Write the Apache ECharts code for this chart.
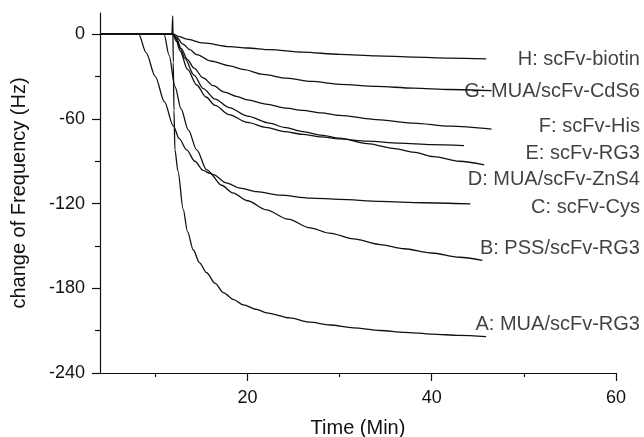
<!DOCTYPE html>
<html>
<head>
<meta charset="utf-8">
<script src="https://cdn.jsdelivr.net/npm/echarts@6/dist/echarts.min.js"></script>
<style>
html,body{margin:0;padding:0;background:#fff;}
#c{width:644px;height:437px;}
</style>
</head>
<body>
<div id="c"></div>
<script>
// ---- data (time in min, frequency change in Hz) ----
const curveA = [[4,0],[6,0],[8,0],[10,0],[11.8,0],[11.9,13],[11.95,-20],[12.03,-54],[12.13,-82],[12.46,-97],[13.03,-124],[13.5,-140],[14.12,-152.7],[14.8,-162],[15.57,-169],[16.5,-176.5],[17.37,-183],[18.5,-188],[19.54,-191.7],[21,-195],[22.08,-197.4],[24.61,-201],[26.78,-204],[28.95,-206],[31.5,-208],[34.4,-209.9],[37,-211.2],[40,-212.4],[43,-213.4],[45.9,-214.2]];
const curveB = [[4,0],[6,0],[8.2,0],[9,-13],[10,-30],[11,-48],[11.95,-65],[12.6,-74],[13.4,-82],[14.3,-90],[15.2,-96.5],[15.93,-98.6],[17.2,-107],[18.4,-112.4],[20,-118],[22.05,-124.4],[24.4,-131],[26.8,-137.2],[28.9,-140.9],[31.5,-145],[34.4,-149],[37,-152],[40,-155],[43,-158],[45.5,-160.3]];
const curveC = [[4,0],[6,0],[10.95,0],[11.5,-15],[12.13,-37],[12.8,-53],[13.58,-67.8],[14.5,-81.9],[15.57,-96],[16.3,-99.5],[17.7,-105.3],[19.2,-109],[21,-111.5],[23.5,-114],[26.8,-116.1],[30,-117],[34.4,-118.5],[39,-119.4],[44.2,-120.2]];
const curveD = [[4,0],[6,0],[11.9,0],[12.2,-3],[12.7,-10],[13.2,-17],[14.2,-29],[15.2,-38.5],[16.5,-46],[18,-52],[20,-58],[22.4,-63],[24,-66],[26,-69],[28,-71.5],[30,-73.7],[33,-77.5],[36,-81],[38,-83.5],[40.2,-86.7],[43,-90],[45.7,-92.6]];
const curveE = [[4,0],[6,0],[11.9,0],[12.3,-5],[12.7,-12],[13.5,-25],[14.5,-36],[15.5,-44.5],[16.5,-50.5],[18,-57],[20,-62.5],[22,-66],[24,-69],[26,-71],[28,-72.8],[30,-74.2],[33,-75.8],[36.5,-77.2],[40,-78.2],[43.5,-78.9]];
const curveF = [[4,0],[6,0],[11.9,0],[12.3,-3],[12.8,-10],[13.5,-18],[14.2,-24],[15.2,-31],[16.3,-36.5],[17.5,-41],[18.8,-44],[20,-46.5],[22,-49.5],[24.25,-52.4],[26,-54],[28,-55.8],[30,-57.5],[34,-60.5],[38,-63],[42,-65.2],[46.5,-67.3]];
const curveG = [[4,0],[6,0],[11.9,0],[12.3,-2],[13,-7],[13.76,-11],[14.5,-14.5],[16,-19],[18.1,-22.5],[19.5,-25],[21.7,-28.5],[24.25,-31.2],[27,-33.5],[30,-35.5],[34,-37],[38,-38.2],[42,-39.2],[46.5,-40]];
const curveH = [[4,0],[6,0],[12,0],[12.5,-1.5],[13.4,-3.5],[15.2,-6.2],[18.1,-8.8],[20,-9.8],[22.4,-11],[26,-12.7],[30,-14.3],[34,-15.3],[38,-16.2],[42,-16.9],[45.9,-17.5]];

const labelText = ['H: scFv-biotin','G: MUA/scFv-CdS6','F: scFv-His','E: scFv-RG3','D: MUA/scFv-ZnS4','C: scFv-Cys','B: PSS/scFv-RG3','A: MUA/scFv-RG3'];
const labelY = [-18.2,-40.7,-65.5,-84.3,-102.7,-123.0,-152.1,-205.9];
const labelX = 60;

const xMajor = [20,40,60];
const xMinor = [10,30,50];
const yMajor = [0,-60,-120,-180,-240];
const yMinor = [-30,-90,-150,-210];

const curves = [curveA,curveB,curveC,curveD,curveE,curveF,curveG,curveH];

const FONT = 'Liberation Sans, Arial, Helvetica, sans-serif';
const TXT = '#111';

const chart = echarts.init(document.getElementById('c'), null, {renderer:'canvas'});
const lineSeries = curves.map(d => ({
  type:'line', data:d, xAxisIndex:0, yAxisIndex:0,
  showSymbol:false, symbol:'none', smooth:0.3, smoothMonotone:'x',
  lineStyle:{color:'#111', width:1.3}, silent:true, animation:false, clip:false
}));

chart.setOption({
  animation:false,
  backgroundColor:'#fff',
  grid:{left:100, right:28, top:13, bottom:64, containLabel:false, outerBoundsMode:'none'},
  xAxis:[{
    type:'value', min:4, max:60, position:'bottom',
    name:'Time (Min)', nameLocation:'middle', nameGap:45,
    nameTextStyle:{fontFamily:FONT, fontSize:20, color:TXT},
    axisLine:{show:true, onZero:false, lineStyle:{color:'#111', width:1.2}},
    axisTick:{show:true, customValues:xMajor, length:8, lineStyle:{color:'#111', width:1.2}},
    axisLabel:{show:true, customValues:xMajor, margin:16, fontFamily:FONT, fontSize:18, color:TXT},
    splitLine:{show:false}
  },{
    type:'value', min:4, max:60, position:'bottom', gridIndex:0,
    axisLine:{show:false, onZero:false},
    axisTick:{show:true, customValues:xMinor, length:4, lineStyle:{color:'#111', width:1.2}},
    axisLabel:{show:false},
    splitLine:{show:false}
  }],
  yAxis:[{
    type:'value', min:-240, max:15, position:'left',
    name:'change of Frequency (Hz)', nameLocation:'middle', nameGap:71, nameRotate:90,
    nameTextStyle:{fontFamily:FONT, fontSize:20, color:TXT},
    axisLine:{show:true, onZero:false, lineStyle:{color:'#111', width:1.2}},
    axisTick:{show:true, customValues:yMajor, length:8, lineStyle:{color:'#111', width:1.2}},
    axisLabel:{show:true, customValues:yMajor, margin:15, fontFamily:FONT, fontSize:18, color:TXT},
    splitLine:{show:false}
  },{
    type:'value', min:-240, max:15, position:'left', gridIndex:0,
    axisLine:{show:false, onZero:false},
    axisTick:{show:true, customValues:yMinor, length:5, lineStyle:{color:'#111', width:1.2}},
    axisLabel:{show:false},
    splitLine:{show:false}
  }],
  series: lineSeries.concat([{
    type:'scatter', xAxisIndex:0, yAxisIndex:0, silent:true, clip:false,
    symbolSize:0.1, itemStyle:{color:'rgba(0,0,0,0)'},
    data: labelY.map((y,i) => ({value:[labelX, y], name:labelText[i]})),
    label:{show:true, position:[24,0], align:'right', verticalAlign:'middle',
      formatter: p => p.name, fontFamily:FONT, fontSize:20, color:TXT}
  }])
});
</script>
</body>
</html>
